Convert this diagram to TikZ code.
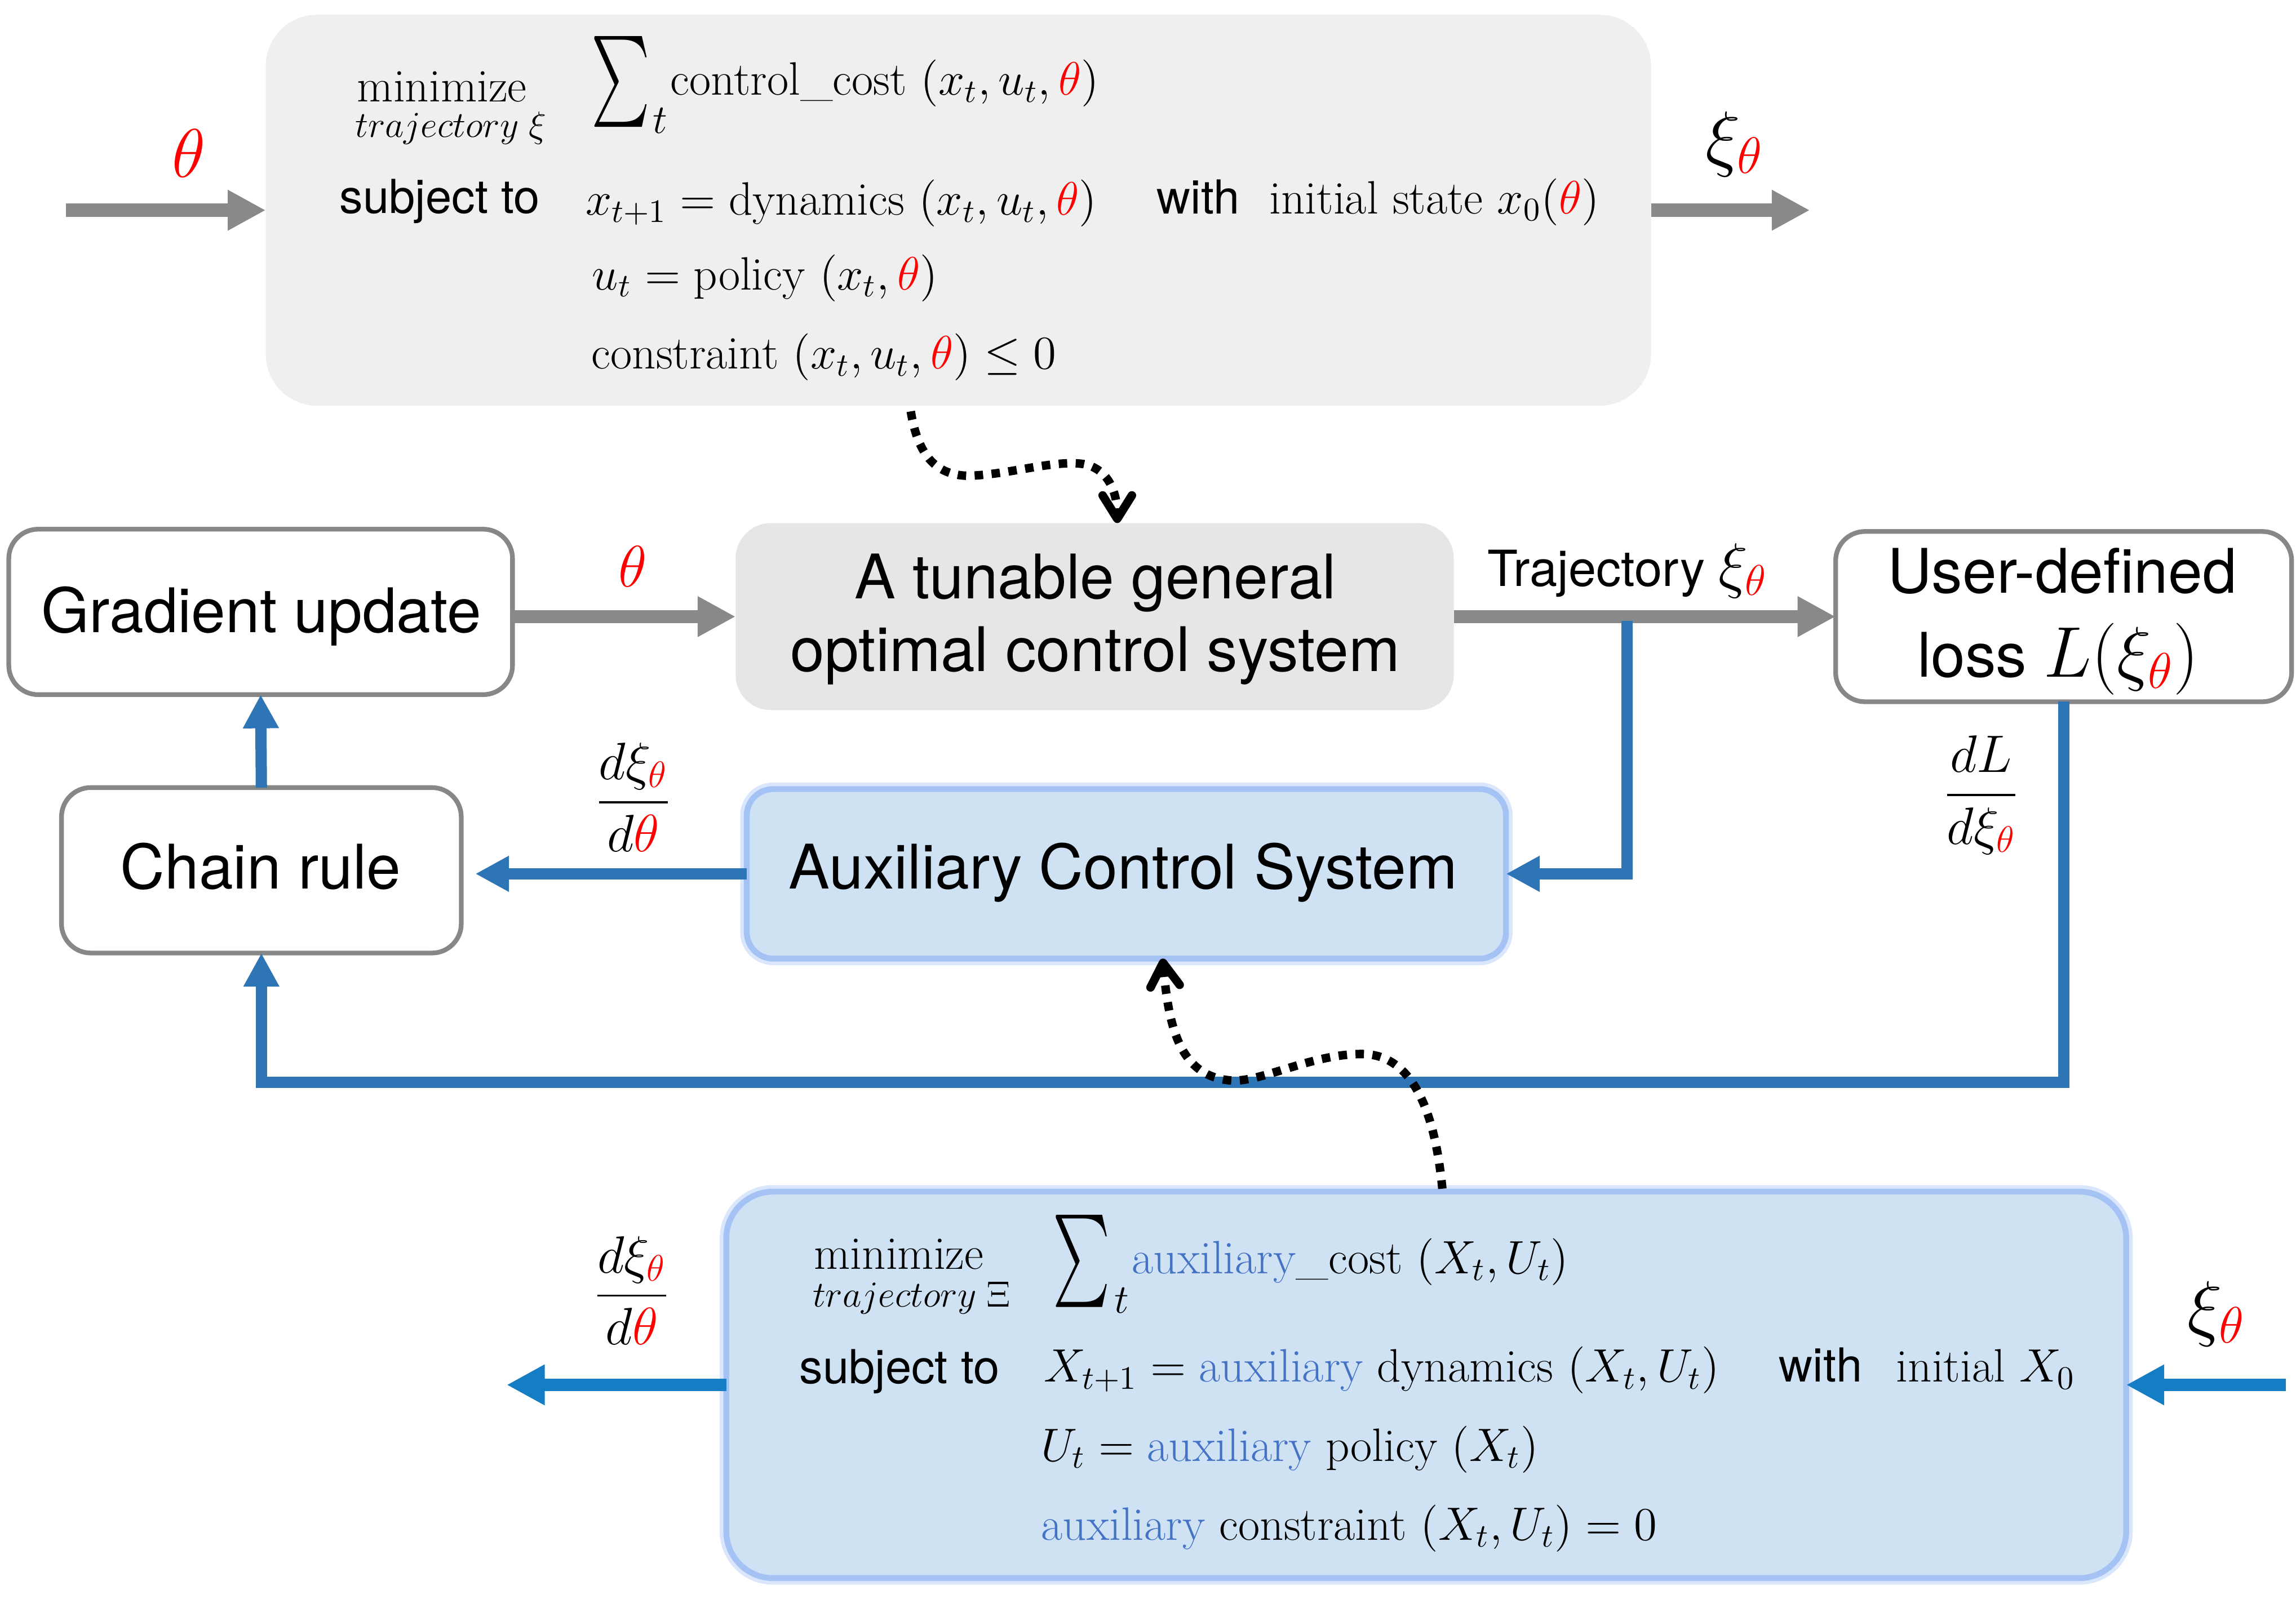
\RequirePackage{fix-cm}
\documentclass[tikz,border=0pt]{standalone}
\usepackage{amsmath}
\usepackage{graphicx}
\usepackage{fontspec}
\setsansfont{TeX Gyre Heros}
\usetikzlibrary{arrows.meta,calc}
\definecolor{arrgrey}{HTML}{898989}
\definecolor{boxedge}{HTML}{878787}
\definecolor{topfill}{HTML}{EFEFEF}
\definecolor{tunfill}{HTML}{E6E6E6}
\definecolor{auxfill}{HTML}{CFE2F3}
\definecolor{auxedge}{HTML}{A4C2F4}
\definecolor{auxglow}{HTML}{D9E6FB}
\definecolor{blueup}{HTML}{2E75B6}
\definecolor{bluelow}{HTML}{157DC4}
\definecolor{auxblue}{HTML}{4472C4}
\newcommand{\rth}{{\color{red}\theta}}
\newcommand{\axb}[1]{\textcolor{auxblue}{#1}}
\begin{document}
\begin{tikzpicture}[x=0.5pt,y=-0.5pt,
  every node/.style={inner sep=0pt,outer sep=0pt},
  greybox/.style={draw=boxedge,line width=1.6pt,fill=white,rounded corners=10pt},
  auxbox/.style={draw=auxedge,line width=2pt,fill=auxfill,
     preaction={draw=auxglow,line width=4.5pt}},
  bigsans/.style={font=\sffamily\fontsize{21}{25}\selectfont},
  midsans/.style={font=\sffamily\fontsize{16}{19}\selectfont},
  serif/.style={font=\fontsize{16}{19}\selectfont},
  subsmall/.style={font=\fontsize{12.5}{15}\selectfont},
  greyarrow/.style={draw=arrgrey,line width=4.5pt,-{Triangle[length=13pt,width=13pt]}},
  bluearrow/.style={draw=blueup,line width=3.85pt,-{Triangle[length=11.5pt,width=11.5pt]}},
  bluelowarrow/.style={draw=bluelow,line width=4.4pt,-{Triangle[length=13pt,width=13pt]}},
  dotarrow/.style={draw=black,line width=2.9pt,dash pattern=on 2.9pt off 2.9pt,
     -{Straight Barb[length=8pt,width=10pt,round]}},
]
\useasboundingbox (0,0) rectangle (1568,1092);

% ---------- boxes ----------
\node[fill=topfill,rounded corners=17.5pt,minimum width=473pt,minimum height=133.5pt] (top) at (654.5,143.6) {};
\node[fill=tunfill,rounded corners=12pt,minimum width=245.2pt,minimum height=63.85pt] (tun) at (747.6,421.2) {};
\node[greybox,minimum width=172pt,minimum height=56.5pt] (grad) at (178,418) {};
\node[greybox,minimum width=155.7pt,minimum height=58.15pt] (loss) at (1409.3,421.2) {};
\node[greybox,minimum width=136.5pt,minimum height=56.5pt] (chain) at (178.5,594.5) {};
\node[auxbox,rounded corners=9pt,minimum width=259.25pt,minimum height=57.9pt] (aux) at (769.25,596.9) {};
\node[auxbox,rounded corners=16pt,minimum width=478pt,minimum height=132pt] (bot) at (974,946) {};

% ---------- box texts ----------
\node[bigsans,anchor=base] (tgrad) at (178.5,432) {Gradient update};
\node[bigsans,anchor=base] (tchain) at (178,607) {Chain rule};
\node[bigsans,anchor=base] (ttun1) at (748,409) {A tunable general};
\node[bigsans,anchor=base] (ttun2) at (748,458.5) {optimal control system};
\node[bigsans,anchor=base] (taux) at (767,607) {Auxiliary Control System};
\node[bigsans,anchor=base west] (tloss1) at (1289,405) {User-defined};
\node[bigsans,anchor=base west] (tloss2) at (1309.5,462.6) {loss {\fontsize{24.5}{28}\selectfont$L(\xi_{\rth})$}};

% ---------- top optimisation problem ----------
\node[serif,anchor=base west] (tmin) at (244,69.3) {minimize};
\node[subsmall,anchor=base west] (ttraj) at (242.5,93.6) {$trajectory\;\xi$};
\node[anchor=north west] (tsig) at (404,25) {\resizebox*{20pt}{31pt}{$\sum$}};
\node[anchor=base west,font=\fontsize{14}{16}\selectfont] (tsigt) at (446,91) {$t$};
\node[serif,anchor=base west] (tcost) at (458,65) {control\_cost~$(x_t,u_t,\rth)$};
\node[midsans,anchor=base west] (tsub) at (232,145.5) {subject to};
\node[serif,anchor=base west] (tdyn) at (400,147) {$x_{t+1} = \text{dynamics}\ (x_t,u_t,\rth)$};
\node[midsans,anchor=base west] (twith) at (790,146) {with};
\node[serif,anchor=base west] (tinit) at (867,146) {initial state $x_0(\rth)$};
\node[serif,anchor=base west] (tpol) at (404.5,198) {$u_t = \text{policy}\ (x_t,\rth)$};
\node[serif,anchor=base west] (tcon) at (404,252) {constraint~$(x_t,u_t,\rth) \le 0$};

% ---------- bottom auxiliary problem ----------
\node[serif,anchor=base west] (bmin) at (556,866.8) {minimize};
\node[subsmall,anchor=base west] (btraj) at (555,892.7) {$trajectory\;\Xi$};
\node[anchor=north west] (bsig) at (719,830) {\resizebox*{19.5pt}{31.5pt}{$\sum$}};
\node[anchor=base west,font=\fontsize{14}{16}\selectfont] (bsigt) at (761,897) {$t$};
\node[serif,anchor=base west] (bcost) at (773,870) {\axb{auxiliary}\_cost~$(X_t,U_t)$};
\node[midsans,anchor=base west] (bsub) at (546,945) {subject to};
\node[serif,anchor=base west] (bdyn) at (713,944) {$X_{t+1} = \text{\axb{auxiliary} dynamics}\ (X_t,U_t)$};
\node[midsans,anchor=base west] (bwith) at (1215,944) {with};
\node[serif,anchor=base west] (binit) at (1295,944) {initial $X_0$};
\node[serif,anchor=base west] (bpol) at (711,998) {$U_t = \text{\axb{auxiliary} policy}\ (X_t)$};
\node[serif,anchor=base west] (bcon) at (711,1052) {\axb{auxiliary} constraint~$(X_t,U_t) = 0$};

% ---------- labels ----------
\node[anchor=base,font=\fontsize{23.5}{26}\selectfont] (lth1) at (129,121) {$\rth$};
\node[anchor=base west,font=\fontsize{25}{28}\selectfont] (lxi1) at (1165,111) {$\xi_{\rth}$};
\node[anchor=base,font=\fontsize{20}{23}\selectfont] (lth2) at (432,401) {$\rth$};
\node[anchor=base west,font=\sffamily\fontsize{17}{20}\selectfont] (ltraj) at (1016,400.5) {Trajectory {\fontsize{21}{24}\selectfont$\xi_{\rth}$}};
\node[anchor=base,font=\fontsize{18}{21}\selectfont] (lfr1) at (432.5,557) {$\dfrac{d\xi_{\rth}}{d\rth}$};
\node[anchor=base,font=\fontsize{18}{21}\selectfont] (lfr2) at (1353,552) {$\dfrac{dL}{d\xi_{\rth}}$};
\node[anchor=base,font=\fontsize{18}{21}\selectfont] (lfr3) at (431.5,894) {$\dfrac{d\xi_{\rth}}{d\rth}$};
\node[anchor=base west,font=\fontsize{25}{28}\selectfont] (lxi2) at (1494,910) {$\xi_{\rth}$};

% ---------- free ends ----------
\coordinate (tin) at (45,143.6);
\coordinate (tout) at (1236,143.6);
\coordinate (tb) at (1111,424);
\coordinate (lc) at (1409.3,739.5);
\coordinate (bout) at (346,946);
\coordinate (bin) at (1561,946);
\coordinate (d1s) at (622,281);
\coordinate (d1e) at (763,357.3);
\coordinate (d2s) at (985,812);
\coordinate (d2e) at (794,654.8);

% ---------- connectors ----------
\draw[greyarrow] (tin) -- (top.west);
\draw[greyarrow] (top.east) -- (tout);
\draw[greyarrow] (grad.east |- tun.west) -- (tun.west);
\draw[greyarrow] (tun.east) -- (loss.west);
\draw[bluearrow] (tb) |- (aux.east);
\draw[bluearrow,shorten >=4.8pt] (aux.west) -- (aux.west -| chain.east);
\draw[bluearrow] (chain.north) -- (grad.south);
\draw[bluearrow] (loss.south) -- (lc) -| (chain.south);
\draw[bluelowarrow] (bot.west) -- (bout);
\draw[bluelowarrow] (bin) -- (bot.east);
\draw[dotarrow] (d1s) .. controls (627,312) and (640,325) .. (662,325)
   .. controls (690,324) and (720,314) .. (740,317)
   .. controls (756,320) and (763,335) .. (d1e);
\draw[dotarrow] (d2s) .. controls (980,760) and (965,720) .. (930,720)
   .. controls (895,720) and (860,740) .. (840,738)
   .. controls (805,735) and (798,700) .. (d2e);
\end{tikzpicture}
\end{document}
